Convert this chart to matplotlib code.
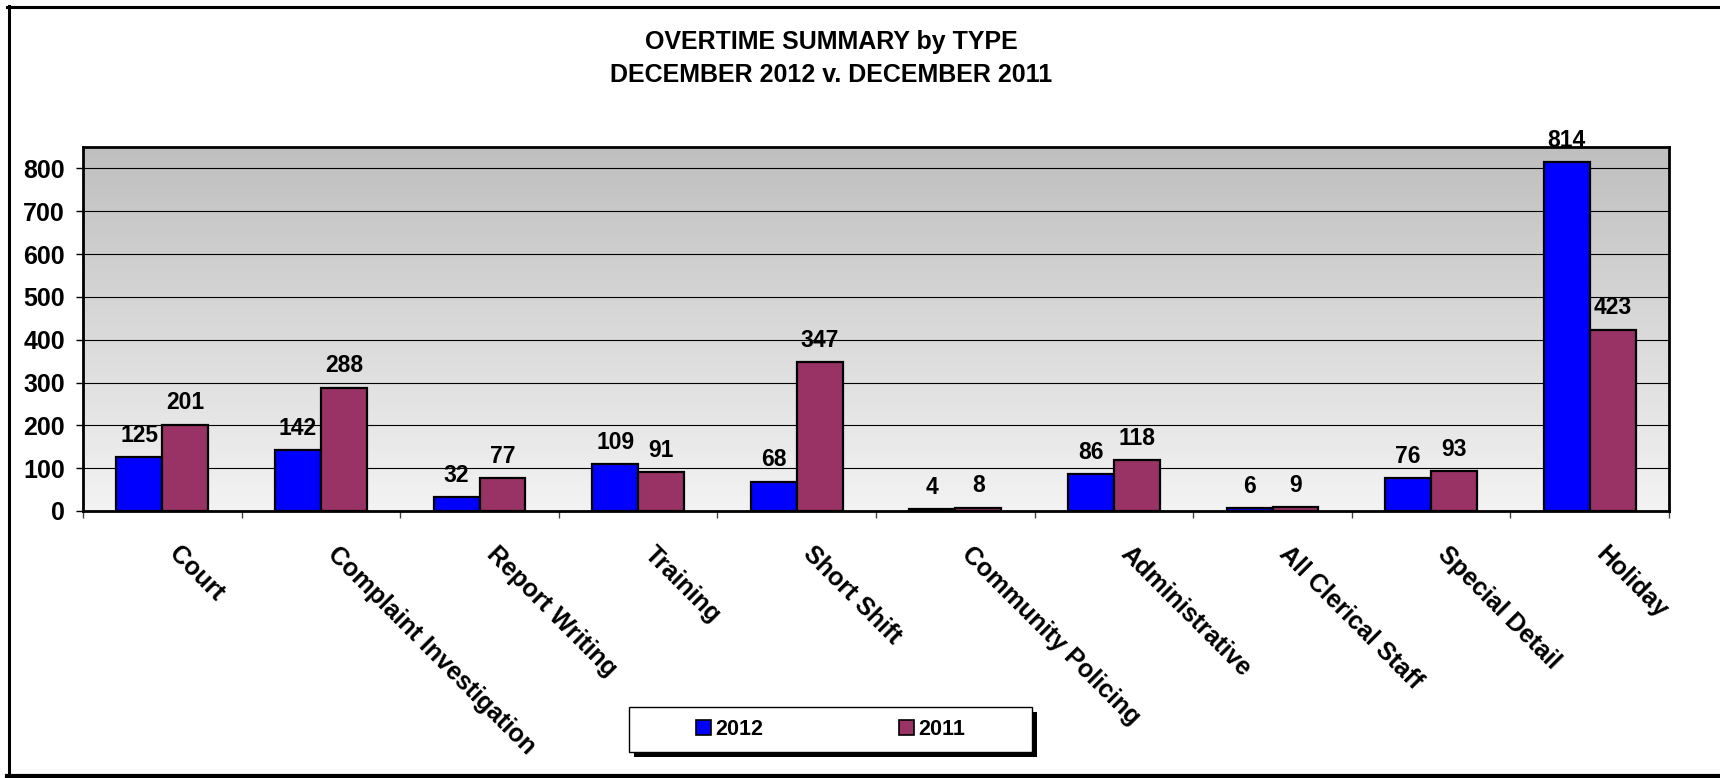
import numpy as np
import matplotlib
matplotlib.use("Agg")
import matplotlib.pyplot as plt
from matplotlib.colors import LinearSegmentedColormap
from matplotlib.patches import Rectangle
from matplotlib.lines import Line2D

categories = ["Court", "Complaint Investigation", "Report Writing", "Training",
              "Short Shift", "Community Policing", "Administrative",
              "All Clerical Staff", "Special Detail", "Holiday"]
values_2012 = [125, 142, 32, 109, 68, 4, 86, 6, 76, 814]
values_2011 = [201, 288, 77, 91, 347, 8, 118, 9, 93, 423]
series_names = ["2012", "2011"]
y_ticks = [0, 100, 200, 300, 400, 500, 600, 700, 800]

W, H = 1720, 778
plt.rcParams['font.family'] = ['Liberation Sans', 'DejaVu Sans']
plt.rcParams['font.weight'] = 'bold'

fig = plt.figure(figsize=(W / 100, H / 100), dpi=100)
fig.patch.set_facecolor('white')

# plot area (pixel box from the reference)
ax = fig.add_axes([83 / W, 1 - 511 / H, (1669 - 83) / W, (511 - 147) / H])

# gray gradient background
grad = LinearSegmentedColormap.from_list("bg", ["#bfbfbf", "#f3f3f3"])
ax.imshow(np.linspace(0, 1, 256).reshape(-1, 1), cmap=grad, aspect='auto',
          extent=[-0.5, len(categories) - 0.5, 0, 850], origin='upper', zorder=0)

x = np.arange(len(categories))
bw = 0.29
b1 = ax.bar(x - bw / 2, values_2012, bw, color='#0000ff', edgecolor='black', linewidth=1.6, zorder=2)
b2 = ax.bar(x + bw / 2, values_2011, bw, color='#993366', edgecolor='black', linewidth=1.6, zorder=2)

for bars, vals in [(b1, values_2012), (b2, values_2011)]:
    for rect, v in zip(bars, vals):
        ax.annotate(str(v), (rect.get_x() + rect.get_width() / 2, v),
                    xytext=(0, 22), textcoords='offset pixels',
                    ha='center', va='center', fontsize=16.5, fontweight='bold')

ax.set_xlim(-0.5, len(categories) - 0.5)
ax.set_ylim(0, 850)
ax.set_yticks(y_ticks)
ax.set_yticklabels([str(t) for t in y_ticks], fontsize=18, fontweight='bold')
ax.set_xticks(np.arange(len(categories) + 1) - 0.5)
ax.set_xticklabels([])
ax.tick_params(axis='y', length=5, width=1, pad=8)
ax.tick_params(axis='x', length=5, width=1, color='#444444')
ax.yaxis.grid(True, color='black', linewidth=0.8)
ax.set_axisbelow(True)
for s in ax.spines.values():
    s.set_linewidth(2)

# rotated category labels
for i, name in enumerate(categories):
    ax.annotate(name, (i, 0), xycoords=ax.get_xaxis_transform(),
                xytext=(19, -31), textcoords='offset pixels',
                rotation=-45, rotation_mode='anchor', ha='left', va='top',
                fontsize=18, fontweight='bold')

# title
fig.text(831 / W, 1 - 42 / H, "OVERTIME SUMMARY by TYPE", ha='center', va='center',
         fontsize=18, fontweight='bold')
fig.text(831 / W, 1 - 75 / H, "DECEMBER 2012 v. DECEMBER 2011", ha='center', va='center',
         fontsize=18, fontweight='bold')

# legend box with black shadow
lx0, ly0, lx1, ly1 = 629, 707, 1032, 752
fig.add_artist(Rectangle(((lx0 + 5) / W, 1 - (ly1 + 5) / H), (lx1 - lx0) / W, (ly1 - ly0) / H,
                         transform=fig.transFigure, facecolor='black', edgecolor='black', lw=0))
fig.add_artist(Rectangle((lx0 / W, 1 - ly1 / H), (lx1 - lx0) / W, (ly1 - ly0) / H,
                         transform=fig.transFigure, facecolor='white', edgecolor='black', lw=1))
handles = [Rectangle((0, 0), 1, 1, facecolor='#0000ff', edgecolor='black', lw=1.2),
           Rectangle((0, 0), 1, 1, facecolor='#993366', edgecolor='black', lw=1.2)]
leg = fig.legend(handles, series_names, loc='center',
                 bbox_to_anchor=((lx0 + lx1) / 2 / W, 1 - (ly0 + ly1) / 2 / H),
                 ncol=2, frameon=False, fontsize=15.5, columnspacing=6.3,
                 handlelength=0.7, handleheight=0.7, handletextpad=0.2)
for t in leg.get_texts():
    t.set_fontweight('bold')

# outer chart frame (left, top, bottom edges)
fig.add_artist(Line2D([8.5 / W, 8.5 / W], [1 - 6 / H, 0], transform=fig.transFigure,
                      color='black', lw=2.2))
fig.add_artist(Line2D([7 / W, 1], [1 - 6.5 / H, 1 - 6.5 / H], transform=fig.transFigure,
                      color='black', lw=2.2))
fig.add_artist(Line2D([7 / W, 1], [1 - 776 / H, 1 - 776 / H], transform=fig.transFigure,
                      color='black', lw=3))

fig.savefig("out.png", dpi=100)
